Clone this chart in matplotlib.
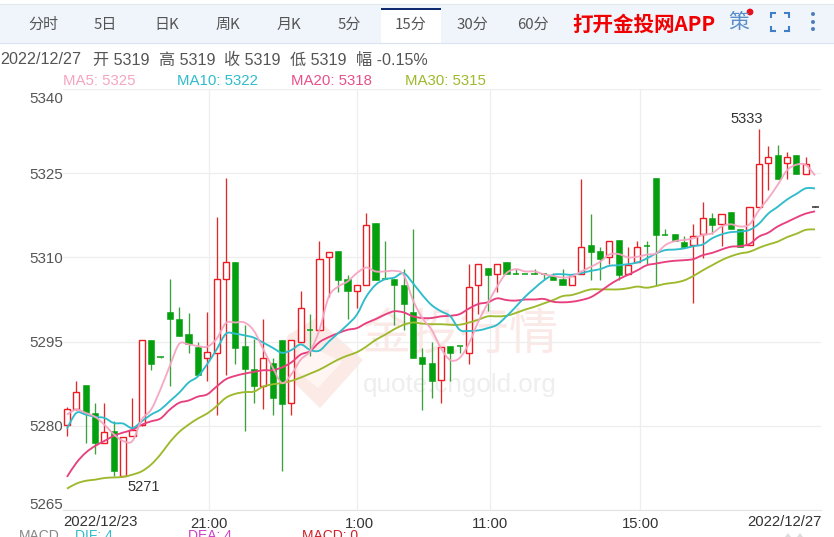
import matplotlib
matplotlib.use("Agg")
import matplotlib.pyplot as plt
from matplotlib.patches import Polygon, Rectangle, Circle, PathPatch
from matplotlib.path import Path
from matplotlib.transforms import ScaledTranslation

W, H = 834, 537
CJK = ['Noto Sans CJK SC', 'DejaVu Sans']
LAT = ['Liberation Sans', 'Noto Sans CJK SC', 'DejaVu Sans']

opens = [5280.2,5283.0,5287.2,5282.2,5277.0,5279.0,5271.0,5278.2,5280.1,5295.2,
         5292.3,5300.3,5299.1,5296.3,5294.1,5292.1,5293.0,5306.2,5309.2,5294.3,
         5290.2,5287.1,5291.1,5295.2,5284.1,5295.0,5297.2,5297.1,5310.1,5311.1,
         5306.2,5304.1,5305.0,5316.2,5306.3,5306.1,5305.1,5300.2,5292.2,5291.1,
         5288.1,5294.3,5294.2,5293.0,5305.0,5308.2,5307.0,5309.1,5307.1,5307.1,
         5307.1,5307.1,5306.7,5306.1,5305.0,5307.0,5312.2,5311.1,5310.0,5313.1,
         5307.0,5309.1,5312.1,5324.1,5314.1,5314.1,5312.8,5312.2,5314.1,5317.0,
         5316.0,5318.1,5315.0,5312.2,5318.9,5326.9,5328.2,5326.9,5328.2,5324.9,
         5319.1]
closes = [5283.0,5286.0,5282.2,5277.0,5278.9,5271.9,5278.0,5279.3,5295.2,5291.0,
          5292.1,5299.0,5296.0,5294.5,5289.0,5293.2,5306.1,5309.2,5293.9,5290.1,
          5287.1,5292.0,5285.0,5283.9,5295.2,5300.9,5297.0,5309.8,5311.0,5305.9,
          5304.1,5305.0,5315.8,5306.0,5306.1,5305.0,5301.7,5292.1,5291.0,5287.9,
          5294.0,5293.0,5294.1,5304.8,5308.8,5306.9,5308.8,5307.0,5307.0,5307.0,
          5307.0,5307.0,5305.9,5305.0,5306.7,5311.9,5310.9,5309.7,5313.0,5306.9,
          5308.6,5311.9,5312.0,5314.0,5314.0,5313.0,5311.8,5313.8,5317.0,5315.8,
          5317.8,5315.0,5311.8,5319.0,5326.7,5327.8,5324.0,5327.8,5324.9,5326.7,
          5319.0]
highs = [5283.3,5288.0,5287.2,5284.0,5284.0,5280.8,5278.0,5284.9,5295.2,5295.2,
         5292.3,5306.1,5301.1,5300.1,5294.9,5300.2,5317.2,5324.2,5309.2,5297.9,
         5295.5,5299.0,5292.1,5295.2,5295.2,5304.0,5299.9,5313.0,5311.0,5311.1,
         5306.9,5305.0,5317.9,5316.2,5313.0,5306.1,5307.9,5315.0,5293.8,5294.9,
         5294.0,5294.3,5294.2,5308.8,5308.8,5308.2,5308.8,5309.1,5307.9,5307.1,
         5307.9,5307.1,5307.2,5307.9,5306.7,5323.9,5317.8,5311.9,5313.0,5313.1,
         5311.9,5313.0,5313.0,5324.1,5315.0,5314.1,5313.8,5315.9,5319.9,5317.9,
         5317.8,5318.1,5315.0,5319.0,5332.9,5329.9,5330.0,5328.8,5328.2,5327.9,
         5319.1]
lows = [5278.1,5282.9,5277.0,5274.9,5277.0,5271.0,5271.0,5278.2,5280.0,5289.9,
        5292.1,5287.1,5296.0,5293.0,5289.0,5288.0,5282.0,5289.0,5291.0,5279.0,
        5284.0,5283.0,5282.0,5271.9,5282.0,5295.0,5292.4,5297.1,5302.9,5303.9,
        5299.0,5301.0,5305.0,5306.0,5306.1,5298.0,5297.0,5292.1,5282.9,5285.0,
        5284.1,5287.9,5293.0,5291.0,5299.9,5300.4,5303.9,5307.0,5307.0,5307.0,
        5307.0,5306.1,5305.9,5305.0,5305.0,5307.0,5306.0,5306.0,5308.9,5306.0,
        5307.0,5309.1,5308.9,5304.9,5314.0,5313.0,5311.8,5301.9,5309.9,5314.1,
        5312.0,5315.0,5311.8,5312.2,5318.9,5322.0,5324.0,5324.0,5324.9,5324.9,
        5319.0]
ma5 = [5282.0,5282.9,5282.3,5281.6,5280.2,5278.5,5277.3,5277.3,5281.1,5282.9,
       5286.5,5290.7,5294.6,5294.5,5294.2,5294.1,5295.5,5298.3,5298.4,5298.4,
       5296.9,5293.6,5290.4,5287.6,5289.2,5291.8,5293.3,5297.1,5303.0,5304.8,
       5305.7,5307.2,5308.2,5307.5,5307.5,5307.6,5306.9,5302.4,5299.2,5297.1,
       5293.8,5291.7,5292.1,5294.7,5298.6,5301.8,5304.8,5307.2,5307.9,5307.5,
       5307.5,5307.0,5306.7,5306.4,5306.6,5307.5,5308.3,5309.2,5310.5,5310.6,
       5310.0,5310.1,5310.5,5310.7,5312.2,5312.9,5313.1,5313.4,5314.0,5314.3,
       5315.5,5315.9,5315.5,5315.9,5318.4,5320.5,5322.9,5325.5,5326.5,5326.5,
       5324.6]
ma10 = [5279.5,5282.3,5282.0,5281.6,5281.4,5280.5,5280.4,5279.6,5280.8,5282.0,
        5282.9,5284.4,5285.9,5287.7,5288.8,5291.0,5293.6,5296.4,5296.4,5296.1,
        5295.7,5294.8,5293.9,5293.0,5293.5,5294.5,5293.5,5293.4,5295.0,5296.5,
        5298.0,5299.8,5303.0,5305.1,5306.1,5306.4,5307.2,5305.4,5303.3,5301.5,
        5300.4,5299.5,5297.1,5296.9,5297.0,5297.4,5298.0,5299.5,5301.2,5303.0,
        5304.5,5305.9,5306.9,5307.0,5306.9,5307.2,5307.6,5307.9,5308.5,5308.6,
        5308.8,5309.1,5309.8,5310.7,5311.3,5311.4,5311.6,5312.0,5312.3,5313.4,
        5314.1,5314.5,5314.6,5314.9,5316.0,5317.8,5319.0,5320.3,5321.3,5322.3,
        5322.3]
ma20 = [5270.9,5273.4,5275.2,5276.4,5277.3,5278.2,5278.8,5279.3,5280.2,5280.8,
        5281.3,5282.9,5284.1,5284.5,5285.2,5285.6,5287.0,5288.3,5288.9,5289.3,
        5289.6,5289.9,5289.9,5290.4,5291.3,5292.7,5293.3,5294.9,5295.8,5296.5,
        5297.1,5297.4,5298.3,5299.0,5299.8,5300.4,5300.2,5299.5,5299.2,5299.2,
        5299.5,5299.6,5299.9,5300.9,5301.7,5302.0,5302.7,5302.4,5302.3,5302.5,
        5302.5,5302.6,5302.1,5302.0,5302.1,5302.4,5302.9,5303.9,5305.1,5306.1,
        5306.9,5307.7,5308.6,5308.9,5309.2,5309.4,5309.5,5309.7,5310.4,5310.8,
        5311.4,5311.9,5312.0,5312.4,5313.7,5314.4,5315.5,5316.3,5317.1,5317.8,
        5318.2]
ma30 = [5268.8,5269.7,5270.2,5270.4,5270.7,5270.8,5270.9,5271.3,5271.9,5273.1,
        5274.9,5277.1,5278.9,5280.2,5281.3,5282.2,5283.5,5285.0,5285.7,5286.0,
        5286.1,5287.0,5287.4,5287.6,5288.0,5288.6,5289.3,5290.0,5290.9,5291.8,
        5292.5,5293.1,5294.1,5295.3,5296.2,5297.2,5298.0,5298.4,5298.2,5298.1,
        5298.1,5298.0,5298.0,5298.4,5298.9,5299.5,5299.5,5299.6,5300.1,5300.7,
        5301.2,5301.8,5302.4,5303.1,5303.3,5303.8,5304.3,5304.3,5304.3,5304.3,
        5304.5,5304.8,5304.6,5304.9,5305.3,5305.5,5305.9,5306.7,5307.7,5308.6,
        5309.5,5310.2,5310.7,5311.0,5311.7,5312.3,5312.8,5313.6,5314.2,5314.9,
        5315.0]
y_ticks = [5265, 5280, 5295, 5310, 5325, 5340]
x_ticks = [15.2, 31.0, 45.2, 61.3]
x_tick_labels = ['21:00', '1:00', '11:00', '15:00']
tabs = ['分时', '5日', '日K', '周K', '月K', '5分', '15分', '30分', '60分']
info = ['2022/12/27', '开 5319', '高 5319', '收 5319', '低 5319', '幅 -0.15%']
legend = [('MA5: 5325', '#f5a5c2'), ('MA10: 5322', '#2fbccb'),
          ('MA20: 5318', '#e8508a'), ('MA30: 5315', '#9db92c')]
macd = [('MACD', '#888888'), ('DIF: 4', '#2fbccb'), ('DEA: 4', '#d040c8'), ('MACD: 0', '#d0202a')]

assert all(len(a) == 81 for a in (opens, closes, highs, lows, ma5, ma10, ma20, ma30))

fig = plt.figure(figsize=(W / 100, H / 100), dpi=100, facecolor='white')

# page layer in pixel coordinates
bg = fig.add_axes([0, 0, 1, 1], zorder=0)
bg.set_xlim(0, W); bg.set_ylim(H, 0); bg.axis('off')

bg.add_patch(Rectangle((0, 4), W, 38.5, fc='#f0f5fc', ec='none'))
bg.plot([0, W], [4, 4], color='#e2e8f0', lw=0.8)
bg.plot([0, W], [42.5, 42.5], color='#d9e3f0', lw=0.8)
bg.add_patch(Rectangle((381, 8), 60, 35.5, fc='white', ec='none'))
bg.add_patch(Rectangle((381, 8), 60, 2, fc='#0d2b6e', ec='none'))
for lab, x in zip(tabs, [43, 105, 167, 228, 289, 349, 411, 472, 533]):
    bg.text(x, 25, lab, ha='center', va='center', fontsize=10.8, family=CJK, color='#555555')
bg.text(644, 24.5, '打开金投网APP', ha='center', va='center', fontsize=14.8,
        family=CJK, weight='bold', color='#f00000')
bg.text(739, 22, '策', ha='center', va='center', fontsize=15, family=CJK, color='#5b8ec9')
bg.add_patch(Circle((750, 12), 3.4, fc='#e8101c', ec='none'))
for xs, ys in [((771, 771, 776), (18, 13, 13)), ((784, 789, 789), (13, 13, 18)),
               ((771, 771, 776), (26, 31, 31)), ((784, 789, 789), (31, 31, 26))]:
    bg.plot(xs, ys, color='#3f7fc8', lw=1.5, solid_joinstyle='miter', solid_capstyle='butt')
for y in (14, 22, 29):
    bg.add_patch(Circle((813, y), 2, fc='#4f7fb8', ec='none'))
for lab, x in zip(info, [0, 93, 159, 224, 290, 356]):
    bg.text(x, 60, lab, ha='left', va='center', fontsize=11.6, family=LAT, color='#555555')
for (lab, col), x in zip(legend, [63, 177, 291, 405]):
    bg.text(x, 81, lab, ha='left', va='center', fontsize=10.8, family=LAT, color=col)
for (lab, col), x in zip(macd, [19, 75, 188, 302]):
    bg.text(x, 535.5, lab, ha='left', va='center', fontsize=10, family=LAT, color=col)
for x in (788, 800):
    bg.add_patch(Polygon([(x - 3, 537), (x + 3, 537), (x, 533)], fc='#dddddd', ec='none'))

# watermark
bg.add_patch(Polygon([(288, 335), (316, 318), (363, 360), (320, 408), (276, 365)],
                     fc='#fbeae6', ec='none'))
bg.add_patch(Polygon([(300, 345), (322, 352), (342, 362), (318, 388), (298, 372)],
                     fc='#fff6f4', ec='none'))
bg.text(460, 335, '金投行情', ha='center', va='center', fontsize=35.5, family=CJK, color='#fae9e6')
bg.text(460, 385, 'quote.cngold.org', ha='center', va='center', fontsize=18.7,
        family=LAT, color='#eeeeee')

# chart
ax = fig.add_axes([63 / W, 1 - 510 / H, (821 - 63) / W, (510 - 89) / H], zorder=1)
ax.patch.set_alpha(0)
ax.set_xlim((63 - 67) / 9.35, (821 - 67) / 9.35)
ax.set_ylim(5265, 5340)
for s in ('top', 'left', 'right'):
    ax.spines[s].set_visible(False)
ax.spines['bottom'].set_color('#e4e4e4')
ax.spines['bottom'].set_linewidth(0.8)
ax.set_yticks(y_ticks)
ax.set_xticks(x_ticks)
ax.set_xticklabels(x_tick_labels)
ax.grid(True, color='#eeeeee', lw=0.9)
ax.set_axisbelow(True)
ax.tick_params(length=0)
ax.tick_params(axis='y', labelsize=10.9, labelcolor='#555555', pad=0)
ax.tick_params(axis='x', labelsize=10.7, labelcolor='#333333', pad=5)
fig.canvas.draw()
ylabs = ax.get_yticklabels()
for lab in ylabs:
    lab.set_family(LAT)
ylabs[0].set_verticalalignment('bottom')
ylabs[-1].set_verticalalignment('top')
ylabs[0].set_transform(ylabs[0].get_transform() + ScaledTranslation(0, -2 / 100, fig.dpi_scale_trans))
ylabs[-1].set_transform(ylabs[-1].get_transform() + ScaledTranslation(0, -3 / 100, fig.dpi_scale_trans))
xlabs = ax.get_xticklabels()
for lab in xlabs:
    lab.set_family(LAT)
xlabs[1].set_transform(xlabs[1].get_transform() + ScaledTranslation(3 / 100, 0, fig.dpi_scale_trans))
ax.text(0, -0.0285, '2022/12/23', transform=ax.transAxes, ha='left', va='center',
        fontsize=10.7, family=LAT, color='#333333')
ax.text(1.0013, -0.0285, '2022/12/27', transform=ax.transAxes, ha='right', va='center',
        fontsize=10.7, family=LAT, color='#333333')

RED, GREEN = '#ee1c22', '#05a010'
idx = list(range(len(opens)))
body_w = 0.66
for i, o, c, h, l in zip(idx, opens, closes, highs, lows):
    last = i == len(opens) - 1
    up = c >= o
    col = '#333333' if last else (RED if up else GREEN)
    wick = '#333333' if last else ('#de2a2a' if up else '#3da03d')
    if h > l:
        ax.vlines(i, l, h, color=wick, lw=0.95, zorder=3)
    top, bot = max(o, c), min(o, c)
    if last or top - bot < 0.4:
        ax.hlines((o + c) / 2, i - 0.33, i + 0.33 if not last else i + 0.45,
                  color=col, lw=1.1, zorder=4)
    elif up:
        ax.bar(i, top - bot, body_w, bot, fc='white', ec=col, lw=1.0, zorder=4)
    else:
        ax.bar(i, top - bot, body_w, bot, fc=col, ec=col, lw=0.4, zorder=4)


def smooth_path(xs, ys):
    verts = [(xs[0], ys[0])]
    codes = [Path.MOVETO]
    n = len(xs)
    for k in range(n - 1):
        a, b = max(k - 1, 0), min(k + 2, n - 1)
        verts.append((xs[k] + (xs[k + 1] - xs[a]) / 6, ys[k] + (ys[k + 1] - ys[a]) / 6))
        verts.append((xs[k + 1] - (xs[b] - xs[k]) / 6, ys[k + 1] - (ys[b] - ys[k]) / 6))
        verts.append((xs[k + 1], ys[k + 1]))
        codes += [Path.CURVE4] * 3
    return Path(verts, codes)


for series, col, a in [(ma30, '#9db92c', 1.0), (ma20, '#e8407f', 1.0),
                       (ma10, '#2fbccb', 1.0), (ma5, '#f5a5c2', 0.95)]:
    ax.add_patch(PathPatch(smooth_path(idx, series), fc='none', ec=col, lw=1.35,
                           alpha=a, zorder=5))

ax.annotate('5271', (6, 5271), xytext=(15, -8), textcoords='offset points', ha='center',
            va='center', fontsize=10.5, family=LAT, color='#333333', zorder=6)
ax.annotate('5333', (74, 5333), xytext=(-8.5, 7), textcoords='offset points', ha='center',
            va='center', fontsize=10.5, family=LAT, color='#333333', zorder=6)

fig.savefig('out.png', dpi=100)
